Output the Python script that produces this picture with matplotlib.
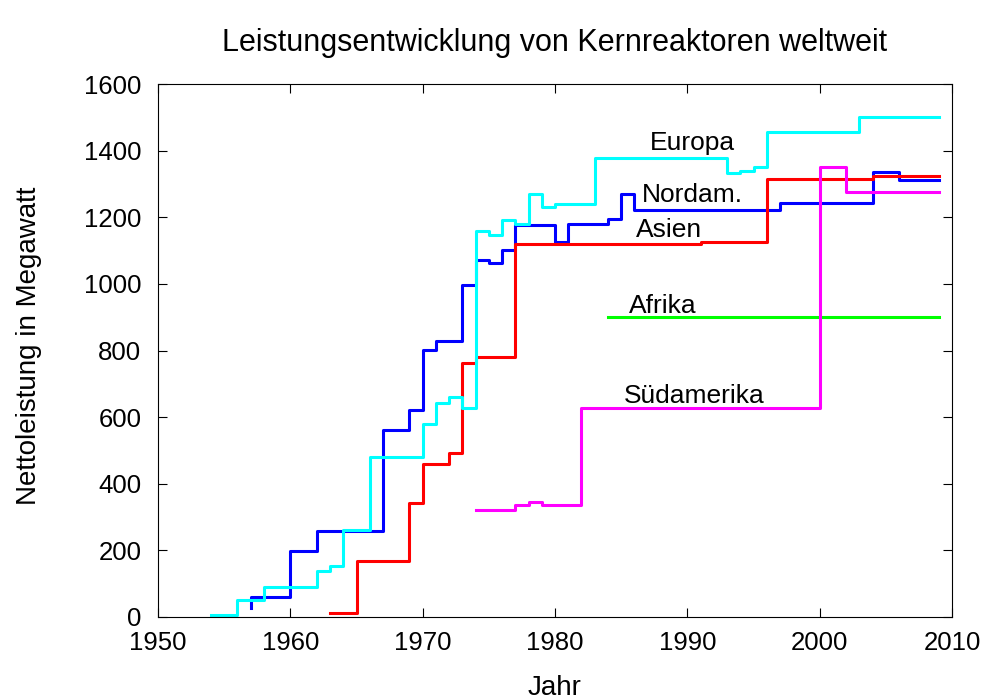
import matplotlib
matplotlib.use("Agg")
import matplotlib.pyplot as plt

plt.rcParams['font.family'] = ['Liberation Sans', 'DejaVu Sans']

# Data (year of change, net capacity in MW), step-post
nordam_x = [1957, 1957, 1960, 1962, 1967, 1969, 1970, 1971, 1973, 1974, 1975, 1976,
            1977, 1980, 1981, 1984, 1985, 1986, 1997, 2004, 2006, 2009]
nordam_y = [28, 60, 198, 258, 561, 620, 803, 829, 998, 1073, 1064, 1103,
            1178, 1126, 1181, 1194, 1271, 1221, 1243, 1335, 1313, 1313]

asien_x = [1963, 1965, 1969, 1970, 1972, 1973, 1974, 1977, 1991, 1996, 2004, 2009]
asien_y = [11, 167, 341, 459, 491, 762, 779, 1121, 1126, 1315, 1325, 1325]

europa_x = [1954, 1956, 1958, 1962, 1963, 1964, 1966, 1970, 1971, 1972, 1973, 1974,
            1975, 1976, 1977, 1978, 1979, 1980, 1983, 1993, 1994, 1995, 1996, 2003, 2009]
europa_y = [5, 50, 90, 137, 154, 261, 479, 578, 641, 661, 628, 1158,
            1146, 1193, 1179, 1270, 1230, 1241, 1379, 1333, 1338, 1350, 1455, 1500, 1500]

afrika_x = [1984, 2009]
afrika_y = [900, 900]

suedam_x = [1974, 1977, 1978, 1979, 1982, 2000, 2002, 2009]
suedam_y = [320, 335, 344, 336, 626, 1350, 1275, 1275]

labels = ["Europa", "Nordam.", "Asien", "Afrika", "Südamerika"]
label_x = [1987.2, 1986.6, 1986.1, 1985.6, 1985.2]
label_y = [1403, 1246, 1141, 914, 641]

xticks = [1950, 1960, 1970, 1980, 1990, 2000, 2010]
yticks = [0, 200, 400, 600, 800, 1000, 1200, 1400, 1600]

W, H = 1000, 700
fig = plt.figure(figsize=(10, 7), dpi=100)
ax = fig.add_axes([158 / W, 1 - 617 / H, (952 - 158) / W, (617 - 84) / H])

lw = 2.2
ax.plot(nordam_x, nordam_y, drawstyle='steps-post', color='#0000ff', lw=lw)
ax.plot(asien_x, asien_y, drawstyle='steps-post', color='#ff0000', lw=lw)
ax.plot(europa_x, europa_y, drawstyle='steps-post', color='#00ffff', lw=lw)
ax.plot(afrika_x, afrika_y, drawstyle='steps-post', color='#00ff00', lw=lw)
ax.plot(suedam_x, suedam_y, drawstyle='steps-post', color='#ff00ff', lw=lw)

for t, x, y in zip(labels, label_x, label_y):
    ax.text(x, y, t, fontsize=19, ha='left', va='baseline', color='black')

ax.set_xlim(1950, 2010)
ax.set_ylim(0, 1600)
ax.set_xticks(xticks)
ax.set_yticks(yticks)
ax.tick_params(direction='in', length=6.5, width=0.8, top=True, right=True,
               labelsize=18.5)
ax.tick_params(axis='x', pad=10)
ax.tick_params(axis='y', pad=12)
for s in ax.spines.values():
    s.set_linewidth(0.8)

fig.text((158 + 952) / 2 / W, 1 - 51 / H,
         "Leistungsentwicklung von Kernreaktoren weltweit",
         fontsize=22, ha='center', va='baseline')
fig.text((158 + 952) / 2 / W, 1 - 695 / H, "Jahr",
         fontsize=20, ha='center', va='baseline')
fig.text(29 / W, 1 - 346 / H, "Nettoleistung in Megawatt",
         fontsize=20, ha='center', va='center', rotation=90)

fig.savefig("out.png", dpi=100, facecolor='white')
